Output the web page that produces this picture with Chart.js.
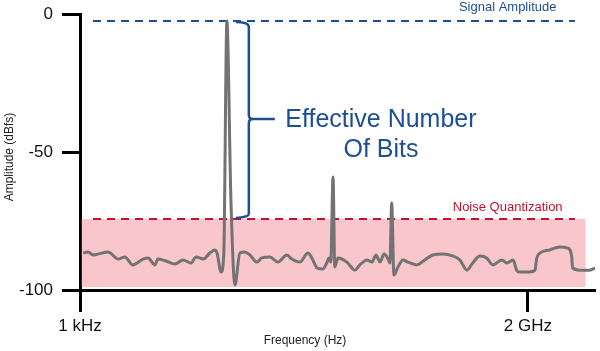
<!DOCTYPE html>
<html lang="en">
<head>
    <meta charset="UTF-8">
    <title>Effective Number Of Bits</title>
    <script src="https://cdn.jsdelivr.net/npm/chart.js"></script>
    <style>
        body { margin: 0; background: #fff; }
        #wrap { width: 600px; height: 351px; position: relative; }
    </style>
</head>
<body>
    <div id="wrap"><canvas id="spectrumChart"></canvas></div>

    <script>
        // Frequency position (1 kHz = 0, 2 GHz = 100) and amplitude in dBfs
        const freqs = [0.7, 1.8, 2.9, 4.0, 6.3, 8.5, 10.0, 11.8, 14.1, 15.2, 16.7, 17.4, 19.2, 21.2, 23.0, 24.8,
            25.9, 27.5, 29.0, 30.1, 30.6, 31.5, 32.1, 32.8, 33.7, 34.6, 35.7, 36.8, 37.9, 39.5, 40.6, 42.4,
            44.2, 46.2, 47.3, 49.1, 50.9, 52.0, 52.9, 54.2, 55.1, 55.6, 56.0, 56.5, 56.9, 57.6, 59.6, 61.4,
            62.5, 64.1, 65.2, 66.1, 67.0, 67.9, 68.8, 69.2, 69.6, 70.1, 71.0, 72.1, 73.2, 75.2, 77.0, 78.8,
            81.0, 83.3, 84.8, 86.4, 87.7, 89.3, 90.8, 92.2, 94.2, 95.3, 96.7, 97.5, 98.2, 100.4, 101.6, 102.0,
            102.7, 104.9, 107.1, 108.9, 109.8, 110.0, 111.6, 113.8, 115.0];
        const amps = [-86.6, -86.2, -87.3, -87.0, -86.2, -88.8, -88.0, -90.9, -88.8, -88.4, -90.9, -88.8, -89.5, -90.6, -89.1, -90.2,
            -88.0, -88.8, -86.6, -85.5, -86.6, -93.5, -87.3, -2.5, -67.4, -98.2, -86.6, -86.2, -87.3, -89.9, -88.4, -88.0,
            -89.9, -87.3, -88.8, -89.9, -86.6, -89.1, -92.0, -92.4, -90.2, -88.4, -89.9, -59.1, -91.7, -88.4, -89.9, -92.8,
            -90.9, -89.1, -89.9, -87.3, -89.9, -87.0, -88.8, -90.2, -68.5, -94.6, -91.7, -89.1, -89.9, -90.9, -89.1, -87.3,
            -87.0, -87.7, -89.1, -92.8, -90.2, -87.7, -88.4, -90.9, -89.1, -90.2, -89.1, -92.8, -93.5, -93.5, -92.8, -88.4,
            -86.6, -85.5, -84.4, -84.8, -88.0, -92.0, -92.8, -92.8, -92.0];

        const xTickValues = [0, 100];
        const xTickLabels = ['1 kHz', '2 GHz'];
        const yTickValues = [0, -50, -100];

        const signalLevel = -2.5;
        const noiseLevel = -74.3;
        const noiseFloorBottom = -98.9;
        const bandStart = 0.4, bandEnd = 112.9;
        const dashStart = 2.9, dashEnd = 110.5;

        const navy = '#1d4f91';
        const red = '#c8102e';

        const overlay = {
            id: 'overlay',
            beforeDatasetsDraw(chart) {
                const { ctx, scales: { x, y } } = chart;
                ctx.save();
                // noise band
                ctx.fillStyle = '#f8c6cb';
                const bx = x.getPixelForValue(bandStart), by = y.getPixelForValue(noiseLevel);
                ctx.fillRect(bx, by, x.getPixelForValue(bandEnd) - bx, y.getPixelForValue(noiseFloorBottom) - by);

                // dashed reference lines
                ctx.lineWidth = 2;
                ctx.setLineDash([8, 6]);
                [[signalLevel, navy], [noiseLevel, red]].forEach(([lvl, col]) => {
                    const py = Math.round(y.getPixelForValue(lvl));
                    ctx.strokeStyle = col;
                    ctx.beginPath();
                    ctx.moveTo(x.getPixelForValue(dashStart), py);
                    ctx.lineTo(x.getPixelForValue(dashEnd), py);
                    ctx.stroke();
                });
                ctx.setLineDash([]);

                // labels of the lines
                ctx.font = '13px "Liberation Sans", Arial, sans-serif';
                ctx.textAlign = 'center';
                ctx.textBaseline = 'middle';
                const lx = x.getPixelForValue(95.5);
                ctx.fillStyle = navy;
                ctx.fillText('Signal Amplitude', lx, y.getPixelForValue(signalLevel) - 13);
                ctx.fillStyle = red;
                ctx.fillText('Noise Quantization', lx, y.getPixelForValue(noiseLevel) - 12);
                ctx.restore();
            },
            afterDatasetsDraw(chart) {
                const { ctx, scales: { x, y } } = chart;
                ctx.save();
                // bracket between signal and noise level
                const left = x.getPixelForValue(34.8);
                const bx = x.getPixelForValue(37.7);
                const top = y.getPixelForValue(signalLevel) + 1;
                const bot = y.getPixelForValue(noiseLevel) - 2;
                const mid = y.getPixelForValue(-38.0);
                ctx.strokeStyle = navy;
                ctx.lineWidth = 2.5;
                ctx.beginPath();
                ctx.moveTo(left, top);
                ctx.quadraticCurveTo(bx, top, bx, top + 5);
                ctx.lineTo(bx, mid - 4);
                ctx.quadraticCurveTo(bx, mid, bx + 4, mid);
                ctx.lineTo(x.getPixelForValue(43.5), mid);
                ctx.moveTo(bx + 4, mid);
                ctx.quadraticCurveTo(bx, mid, bx, mid + 4);
                ctx.lineTo(bx, bot - 3);
                ctx.quadraticCurveTo(bx, bot, left, bot + 1);
                ctx.stroke();

                ctx.fillStyle = navy;
                ctx.font = '25px "Liberation Sans", Arial, sans-serif';
                ctx.textAlign = 'center';
                ctx.textBaseline = 'middle';
                const tx = x.getPixelForValue(67.2);
                ctx.fillText('Effective Number', tx, mid + 1);
                ctx.fillText('Of Bits', tx, mid + 31);

                // axis titles
                ctx.fillStyle = '#222';
                ctx.font = '12px "Liberation Sans", Arial, sans-serif';
                ctx.fillText('Frequency (Hz)', 305, 341);
                ctx.translate(10, 157);
                ctx.rotate(-Math.PI / 2);
                ctx.fillText('Amplitude (dBfs)', 0, 0);
                ctx.restore();
            }
        };

        const tickFont = { family: '"Liberation Sans", Arial, sans-serif', size: 17 };

        new Chart(document.getElementById('spectrumChart'), {
            type: 'line',
            data: {
                datasets: [{
                    data: freqs.map((f, i) => ({ x: f, y: amps[i] })),
                    borderColor: '#737373',
                    borderWidth: 3,
                    pointRadius: 0,
                    cubicInterpolationMode: 'monotone',
                    clip: false
                }]
            },
            options: {
                responsive: true,
                maintainAspectRatio: false,
                animation: false,
                layout: { padding: { top: 14, right: 5, left: 0, bottom: 0 } },
                plugins: { legend: { display: false }, tooltip: { enabled: false } },
                scales: {
                    x: {
                        type: 'linear',
                        min: 0,
                        max: 115,
                        afterBuildTicks: s => { s.ticks = xTickValues.map(v => ({ value: v })); },
                        afterFit: s => { s.height = 61; s.paddingLeft = 0; s.paddingRight = 0; },
                        ticks: {
                            color: '#111',
                            font: tickFont,
                            padding: 4,
                            maxRotation: 0,
                            callback: (v) => xTickLabels[xTickValues.indexOf(v)]
                        },
                        grid: { drawOnChartArea: false, tickLength: 22, tickWidth: 3, tickColor: '#000' },
                        border: { display: true, width: 3, color: '#000' }
                    },
                    y: {
                        min: -100,
                        max: 0,
                        afterBuildTicks: s => { s.ticks = yTickValues.map(v => ({ value: v })); },
                        afterFit: s => { s.width = 80; s.paddingTop = 0; s.paddingBottom = 0; },
                        ticks: { color: '#111', font: tickFont, padding: 9 },
                        grid: { drawOnChartArea: false, tickLength: 18, tickWidth: 3, tickColor: '#000' },
                        border: { display: true, width: 3, color: '#000' }
                    }
                }
            },
            plugins: [overlay]
        });
    </script>
</body>
</html>
